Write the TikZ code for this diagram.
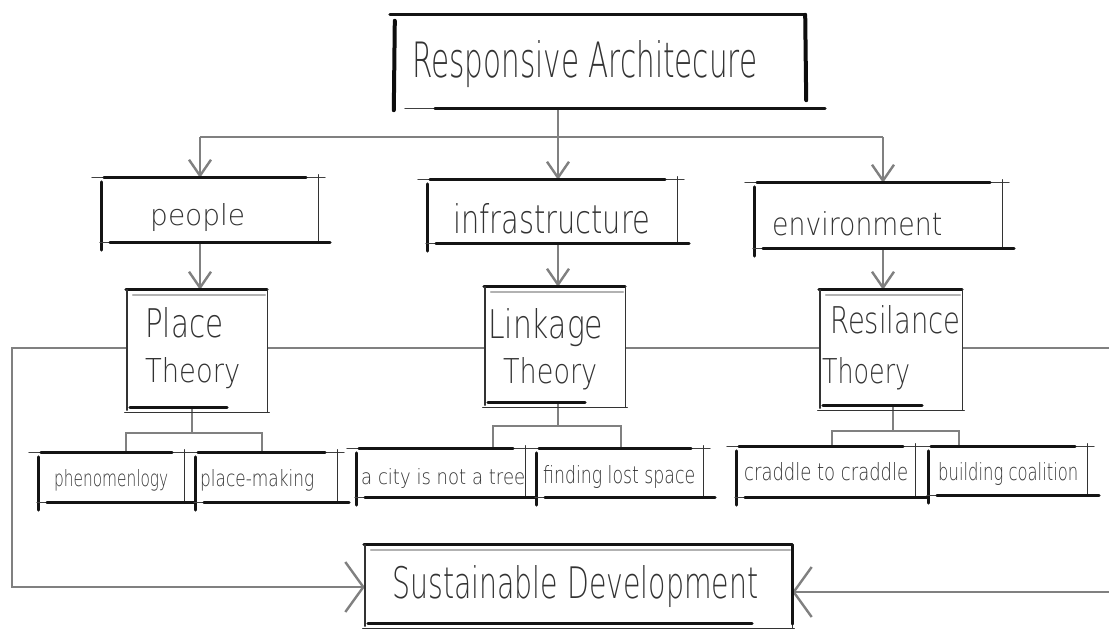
\documentclass[tikz,border=0pt]{standalone}
\usepackage{fontspec}
\usepackage{graphicx}
\newfontfamily\hand{DejaVu Sans ExtraLight}
\usetikzlibrary{calc,fit,arrows.meta}
\newcommand\fw[3]{\resizebox{#1pt}{#2pt}{\hand #3}}
\tikzset{
  bx/.style={draw=none, rectangle, inner sep=0pt},
  lbl/.style={inner sep=0pt, anchor=base west, text=black!80},
  skA/.style={draw=black!80, line width=1.4pt, line cap=round},
  skB/.style={draw=black!92, line width=2.8pt, line cap=round},
  skH/.style={draw=black!95, line width=4pt, line cap=round},
  skT/.style={draw=black!75, line width=1pt, line cap=round},
  skC/.style={draw=black!30, line width=1.6pt, line cap=round},
  conn/.style={draw=black!50, line width=2.4pt},
  arr/.style={conn, -{Straight Barb[length=16pt,width=22pt]}},
  bigarr/.style={conn, -{Straight Barb[length=18pt,width=50pt]}}
}
% generic sketchy frame
\newcommand\sketch[1]{%
  \draw[skT] ($(#1.north west)+(-10,0)$) -- ($(#1.north east)+(7,0)$);
  \draw[skB] ($(#1.north west)+(2,0)$) -- ($(#1.north east)+(-12,0)$);
  \draw[skB] ($(#1.north west)+(0,4)$) -- ($(#1.south west)+(0,8)$);
  \draw[skA] ($(#1.north east)+(0,-3)$) -- ($(#1.south east)+(0,0)$);
  \draw[skT] ($(#1.south west)+(-2,0)$) -- ($(#1.south east)+(12,0)$);
  \draw[skB] ($(#1.south west)+(8,0)$) -- ($(#1.south east)+(12,0)$);
}
% frame with doubled top and bottom (theory boxes)
\newcommand\sketchd[1]{%
  \draw[skB] ($(#1.north west)+(-1,0)$) -- ($(#1.north east)+(0,0)$);
  \draw[skC] ($(#1.north west)+(6,5)$) -- ($(#1.north east)+(-2,5)$);
  \draw[skA] ($(#1.north west)+(0,0)$) -- ($(#1.south west)+(0,2)$);
  \draw[skA] ($(#1.north east)+(0,0)$) -- ($(#1.south east)+(0,4)$);
  \draw[skA] ($(#1.south west)+(-2,4)$) -- ($(#1.south east)+(2,4)$);
  \draw[skB] ($(#1.south west)+(3,-1)$) -- ($(#1.south east)+(-40,-1)$);
}
\begin{document}
\begin{tikzpicture}[x=1pt,y=-1pt]
\fill[white] (0,0) rectangle (1109,632);
\useasboundingbox (0,0) rectangle (1109,632);

% boxes
\node[bx, fit={(395,15) (805,108)}] (title) {};
\node[bx, fit={(102,178) (318,242)}] (people) {};
\node[bx, fit={(428,180) (677,243)}] (infra) {};
\node[bx, fit={(755,183) (1002,248)}] (env) {};
\node[bx, fit={(127,290) (267,408)}] (place) {};
\node[bx, fit={(485,287) (625,403)}] (linkage) {};
\node[bx, fit={(820,290) (962,406)}] (resil) {};
\node[bx, fit={(39,453) (184,502)}] (phen) {};
\node[bx, fit={(196,453) (337,502)}] (pmak) {};
\node[bx, fit={(357,449) (525,497)}] (city) {};
\node[bx, fit={(537,449) (703,497)}] (find) {};
\node[bx, fit={(737,447) (915,497)}] (cradle) {};
\node[bx, fit={(929,447) (1087,495)}] (build) {};
\node[bx, fit={(365,545) (792,624)}] (sust) {};

% connector junctions
\coordinate (j0) at (558,137);
\coordinate (jL) at (200,137);
\coordinate (jR) at (883,137);
\coordinate (hl) at (12,348);
\coordinate (hr) at (1109,348);
\coordinate (bl) at (12,587);
\coordinate (br) at (1109,592);
\coordinate (pb) at (192,433);
\coordinate (pbL) at (126,433);
\coordinate (pbR) at (262,433);
\coordinate (lb) at (558,426);
\coordinate (lbL) at (493,426);
\coordinate (lbR) at (621,426);
\coordinate (rb) at (893,431);
\coordinate (rbL) at (832,431);
\coordinate (rbR) at (959,431);

% connectors
\draw[conn] (title.south -| j0) -- (j0);
\draw[conn] (jL) -- (jR);
\draw[arr] (jL) -- (jL |- people.north);
\draw[arr] (j0) -- (j0 |- infra.north);
\draw[arr] (jR) -- (jR |- env.north);
\draw[arr] (jL |- people.south) -- (jL |- place.north);
\draw[arr] (j0 |- infra.south) -- (j0 |- linkage.north);
\draw[arr] (jR |- env.south) -- (jR |- resil.north);

\draw[conn] (place.east |- hl) -- (linkage.west |- hl);
\draw[conn] (linkage.east |- hl) -- (resil.west |- hl);
\draw[conn] (resil.east |- hl) -- (hr);
\draw[bigarr] (place.west |- hl) -- (hl) -- (bl) -- (sust.west |- bl);
\draw[bigarr] (br) -- (sust.east |- br);

\draw[conn] (pb |- place.south) -- (pb);
\draw[conn] (phen.north -| pbL) -- (pbL) -- (pbR) -- (pmak.north -| pbR);
\draw[conn] (lb |- linkage.south) -- (lb);
\draw[conn] (city.north -| lbL) -- (lbL) -- (lbR) -- (find.north -| lbR);
\draw[conn] (rb |- resil.south) -- (rb);
\draw[conn] (cradle.north -| rbL) -- (rbL) -- (rbR) -- (build.north -| rbR);

% sketchy frames
\foreach \n in {people,infra,env,phen,pmak,city,find,cradle,build}{\sketch{\n}}
\foreach \n in {place,linkage,resil,sust}{\sketchd{\n}}
% title: heavy brush frame
\draw[skB] ($(title.north west)+(-5,0)$) -- ($(title.north east)+(0,0)$);
\draw[skH] ($(title.north west)+(0,6)$) -- ($(title.south west)+(-1,2)$);
\draw[skH] ($(title.north east)+(0,0)$) -- ($(title.south east)+(1,-8)$);
\draw[skT] ($(title.south west)+(10,0)$) -- ($(title.south east)+(20,0)$);
\draw[skB] ($(title.south west)+(40,0)$) -- ($(title.south east)+(20,0)$);
\draw[skB] (sust.north east) -- (sust.south east);

% texts
\node[lbl] (tTitle) at (412,77) {\fw{345}{37}{Responsive Architecure}};
\node[lbl] (tPeople) at (150,225) {\fw{95}{22}{people}};
\node[lbl] (tInfra) at (453,233) {\fw{197}{30}{infrastructure}};
\node[lbl] (tEnv) at (772,235) {\fw{170}{24}{environment}};
\node[lbl] (tPlace1) at (145,337) {\fw{78}{30}{Place}};
\node[lbl] (tPlace2) at (145,382) {\fw{95}{25}{Theory}};
\node[lbl] (tLink1) at (488,338) {\fw{115}{30}{Linkage}};
\node[lbl] (tLink2) at (503,383) {\fw{94}{26}{Theory}};
\node[lbl] (tRes1) at (830,333) {\fw{130}{28}{Resilance}};
\node[lbl] (tRes2) at (822,383) {\fw{88}{26}{Thoery}};
\node[lbl] (tPhen) at (54,486) {\fw{114}{17}{phenomenlogy}};
\node[lbl] (tPmak) at (200,486) {\fw{114}{17}{place-making}};
\node[lbl] (tCity) at (361,484) {\fw{164}{16}{a city is not a tree}};
\node[lbl] (tFind) at (543,483) {\fw{152}{18}{finding lost space}};
\node[lbl] (tCradle) at (744,480) {\fw{164}{18}{craddle to craddle}};
\node[lbl] (tBuild) at (938,480) {\fw{140}{18}{building coalition}};
\node[lbl] (tSust) at (392,598) {\fw{366}{33}{Sustainable Development}};
\end{tikzpicture}
\end{document}
